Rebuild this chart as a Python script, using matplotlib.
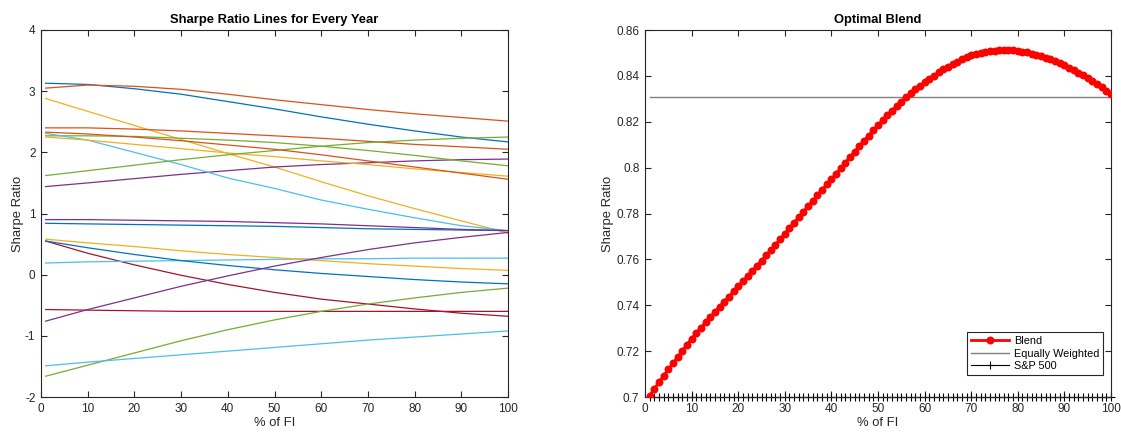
import numpy as np
import matplotlib
matplotlib.use("Agg")
import matplotlib.pyplot as plt

plt.rcParams['font.family'] = ['Liberation Sans', 'DejaVu Sans']
plt.rcParams['axes.unicode_minus'] = False

# ---------------- Left panel data (values read at these % of FI) ----------------
x_fi = [1, 10, 20, 30, 40, 50, 60, 70, 80, 90, 100]

year_01 = [3.13, 3.11, 3.04, 2.95, 2.83, 2.71, 2.58, 2.46, 2.35, 2.25, 2.17]
year_02 = [3.05, 3.10, 3.08, 3.03, 2.95, 2.86, 2.78, 2.70, 2.63, 2.57, 2.51]
year_03 = [2.88, 2.67, 2.44, 2.21, 1.98, 1.76, 1.52, 1.29, 1.08, 0.88, 0.68]
year_04 = [1.44, 1.50, 1.57, 1.64, 1.70, 1.76, 1.80, 1.83, 1.86, 1.88, 1.89]
year_05 = [2.27, 2.27, 2.26, 2.23, 2.20, 2.16, 2.10, 2.03, 1.95, 1.86, 1.78]
year_06 = [2.31, 2.20, 2.00, 1.80, 1.58, 1.41, 1.22, 1.07, 0.93, 0.80, 0.72]
year_07 = [0.55, 0.35, 0.16, -0.01, -0.16, -0.29, -0.40, -0.48, -0.56, -0.63, -0.68]
year_08 = [0.84, 0.83, 0.82, 0.81, 0.80, 0.79, 0.77, 0.75, 0.74, 0.73, 0.72]
year_09 = [2.40, 2.40, 2.38, 2.35, 2.31, 2.27, 2.23, 2.18, 2.13, 2.09, 2.05]
year_10 = [2.25, 2.20, 2.13, 2.06, 1.99, 1.93, 1.86, 1.80, 1.73, 1.67, 1.61]
year_11 = [0.90, 0.90, 0.89, 0.88, 0.87, 0.85, 0.83, 0.80, 0.77, 0.74, 0.72]
year_12 = [1.62, 1.70, 1.79, 1.88, 1.96, 2.03, 2.10, 2.16, 2.20, 2.23, 2.25]
year_13 = [0.19, 0.21, 0.22, 0.23, 0.24, 0.25, 0.26, 0.26, 0.27, 0.27, 0.27]
year_14 = [-0.57, -0.58, -0.59, -0.60, -0.60, -0.60, -0.60, -0.60, -0.60, -0.60, -0.60]
year_15 = [0.55, 0.44, 0.33, 0.23, 0.15, 0.08, 0.02, -0.03, -0.08, -0.12, -0.15]
year_16 = [2.33, 2.30, 2.25, 2.19, 2.12, 2.05, 1.96, 1.86, 1.76, 1.66, 1.56]
year_17 = [0.58, 0.52, 0.46, 0.39, 0.33, 0.28, 0.23, 0.18, 0.14, 0.10, 0.07]
year_18 = [-0.76, -0.57, -0.38, -0.19, -0.02, 0.14, 0.28, 0.41, 0.52, 0.61, 0.69]
year_19 = [-1.66, -1.48, -1.28, -1.08, -0.90, -0.74, -0.60, -0.48, -0.38, -0.29, -0.22]
year_20 = [-1.49, -1.43, -1.37, -1.31, -1.25, -1.19, -1.13, -1.07, -1.02, -0.97, -0.92]

years = [year_01, year_02, year_03, year_04, year_05, year_06, year_07,
         year_08, year_09, year_10, year_11, year_12, year_13, year_14,
         year_15, year_16, year_17, year_18, year_19, year_20]

# ---------------- Right panel data ----------------
pct_fi = list(range(1, 101))
blend = [0.7006, 0.7036, 0.7065, 0.7093, 0.7120, 0.7147, 0.7174, 0.7201, 0.7228, 0.7255,
         0.7279, 0.7302, 0.7325, 0.7348, 0.7371, 0.7394, 0.7416, 0.7438, 0.7460, 0.7482,
         0.7505, 0.7527, 0.7550, 0.7572, 0.7595, 0.7618, 0.7641, 0.7664, 0.7688, 0.7712,
         0.7736, 0.7760, 0.7784, 0.7808, 0.7832, 0.7856, 0.7880, 0.7904, 0.7927, 0.7950,
         0.7974, 0.7998, 0.8022, 0.8046, 0.8070, 0.8094, 0.8117, 0.8140, 0.8163, 0.8185,
         0.8207, 0.8228, 0.8249, 0.8269, 0.8288, 0.8306, 0.8324, 0.8341, 0.8357, 0.8372,
         0.8387, 0.8401, 0.8415, 0.8428, 0.8440, 0.8451, 0.8462, 0.8472, 0.8481, 0.8489,
         0.8495, 0.8500, 0.8504, 0.8507, 0.8509, 0.8511, 0.8512, 0.8512, 0.8511, 0.8509,
         0.8506, 0.8502, 0.8497, 0.8492, 0.8486, 0.8479, 0.8472, 0.8464, 0.8455, 0.8446,
         0.8436, 0.8425, 0.8414, 0.8402, 0.8390, 0.8377, 0.8364, 0.8350, 0.8336, 0.8322]
equally_weighted = 0.8308
sp500 = 0.7002

matlab_colors = ['#0072BD', '#D95319', '#EDB120', '#7E2F8E',
                 '#77AC30', '#4DBEEE', '#A2142F']

fig = plt.figure(figsize=(11.21, 4.32), dpi=100)
ax1 = fig.add_axes([41/1121, 1-397/432, (508-41)/1121, (397-30)/432])
ax2 = fig.add_axes([645/1121, 1-397/432, (1111-645)/1121, (397-30)/432])

axc = '#262626'

def style(ax):
    for s in ax.spines.values():
        s.set_color(axc)
        s.set_linewidth(0.8)
    ax.tick_params(direction='in', top=True, right=True, length=4,
                   width=0.8, colors=axc, labelsize=8.5, labelcolor=axc, pad=4)

for i, yv in enumerate(years):
    ax1.plot(x_fi, yv, color=matlab_colors[i % 7], lw=0.9)
ax1.set_xlim(0, 100)
ax1.set_ylim(-2, 4)
ax1.set_xticks(range(0, 101, 10))
ax1.set_yticks(range(-2, 5))
ax1.set_title('Sharpe Ratio Lines for Every Year', fontsize=9.4, fontweight='bold', pad=5)
ax1.set_xlabel('% of FI', fontsize=9.4, color=axc, labelpad=2)
ax1.set_ylabel('Sharpe Ratio', fontsize=9.4, color=axc, labelpad=1)
style(ax1)

ax2.plot(pct_fi, blend, color='red', lw=2, marker='o', ms=4.7,
         mfc='red', mec='red', label='Blend', zorder=3)
ax2.plot([1, 100], [equally_weighted, equally_weighted], color='#808080', lw=1,
         label='Equally Weighted', zorder=2)
ax2.plot(pct_fi, [sp500] * len(pct_fi), color='black', lw=0.8, marker='+',
         ms=6, mew=0.8, label='S&P 500', clip_on=False, zorder=2)
ax2.set_xlim(0, 100)
ax2.set_ylim(0.7, 0.86)
ax2.set_xticks(range(0, 101, 10))
ax2.set_yticks([0.7, 0.72, 0.74, 0.76, 0.78, 0.8, 0.82, 0.84, 0.86])
ax2.set_yticklabels(['0.7', '0.72', '0.74', '0.76', '0.78', '0.8', '0.82', '0.84', '0.86'])
ax2.set_title('Optimal Blend', fontsize=9.4, fontweight='bold', pad=5)
ax2.set_xlabel('% of FI', fontsize=9.4, color=axc, labelpad=2)
ax2.set_ylabel('Sharpe Ratio', fontsize=9.4, color=axc, labelpad=2)
style(ax2)
leg = ax2.legend(loc='lower right', bbox_to_anchor=(0.995, 0.045), fontsize=7.8,
                 frameon=True, fancybox=False, framealpha=1, edgecolor=axc,
                 handlelength=3.5, borderpad=0.35, labelspacing=0.25,
                 handletextpad=0.5)
leg.get_frame().set_linewidth(0.8)

fig.savefig('out.png', dpi=100)
